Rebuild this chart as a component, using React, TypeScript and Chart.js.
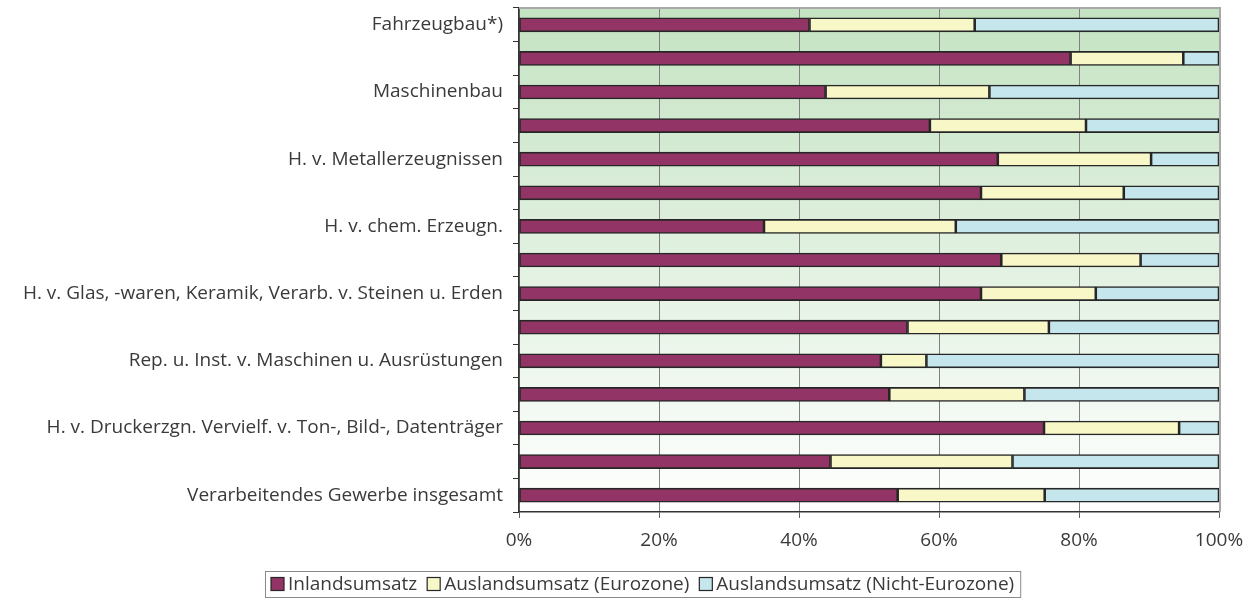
import React, { useEffect, useRef } from "react";
import { Chart, registerables } from "chart.js";

Chart.register(...registerables);

const categories = [
  "Fahrzeugbau*)",
  "",
  "Maschinenbau",
  "",
  "H. v. Metallerzeugnissen",
  "",
  "H. v. chem. Erzeugn.",
  "",
  "H. v. Glas, -waren, Keramik, Verarb. v. Steinen u. Erden",
  "",
  "Rep. u. Inst. v. Maschinen u. Ausrüstungen",
  "",
  "H. v. Druckerzgn. Vervielf. v. Ton-, Bild-, Datenträger",
  "",
  "Verarbeitendes Gewerbe insgesamt",
];

const inland = [41.5, 78.8, 43.8, 58.7, 68.4, 66.0, 35.0, 68.9, 66.0, 55.5, 51.7, 52.9, 75.0, 44.5, 54.1];
const eurozone = [23.6, 16.1, 23.4, 22.3, 21.9, 20.4, 27.4, 19.9, 16.4, 20.2, 6.5, 19.3, 19.3, 26.0, 21.0];
const nichtEurozone = [34.9, 5.1, 32.8, 19.0, 9.7, 13.6, 37.6, 11.2, 17.6, 24.3, 41.8, 27.8, 5.7, 29.5, 24.9];

const seriesNames = ["Inlandsumsatz", "Auslandsumsatz (Eurozone)", "Auslandsumsatz (Nicht-Eurozone)"];
const seriesColors = ["#933466", "#f8f7c8", "#c4e6ec"];

const xTicks = [0, 20, 40, 60, 80, 100];

const FONT = "'Open Sans', 'DejaVu Sans', sans-serif";
const FS = 19;
const TEXT = "#3a3a3a";

const bgPlugin = {
  id: "bgGradient",
  beforeDraw(chart: any) {
    const { ctx, chartArea: a } = chart;
    const g = ctx.createLinearGradient(0, a.top, 0, a.bottom);
    g.addColorStop(0, "#c4e3c2");
    g.addColorStop(1, "#ffffff");
    ctx.save();
    ctx.fillStyle = g;
    ctx.fillRect(a.left, a.top, a.right - a.left, a.bottom - a.top);
    ctx.restore();
  },
  afterDatasetsDraw(chart: any) {
    const { ctx, chartArea: a } = chart;
    ctx.save();
    ctx.strokeStyle = "#a8a8a8";
    ctx.lineWidth = 2;
    ctx.beginPath();
    ctx.moveTo(a.left, a.top);
    ctx.lineTo(a.right + 1, a.top);
    ctx.lineTo(a.right + 1, a.bottom);
    ctx.stroke();
    ctx.restore();
  },
};

const legendPlugin = {
  id: "boxLegend",
  afterDraw(chart: any) {
    const { ctx } = chart;
    ctx.save();
    ctx.font = `${FS}px ${FONT}`;
    ctx.textBaseline = "middle";
    const left = 265;
    const top = 571;
    const bottom = 597;
    const yC = 584;
    const sq = 13;
    let x = left + 6;
    chart.data.datasets.forEach((ds: any, i: number) => {
      ctx.fillStyle = ds.backgroundColor;
      ctx.fillRect(x, yC - sq / 2, sq, sq);
      ctx.strokeStyle = "#262626";
      ctx.lineWidth = 1.2;
      ctx.strokeRect(x, yC - sq / 2, sq, sq);
      x += sq + 4;
      ctx.fillStyle = TEXT;
      ctx.fillText(ds.label, x, yC + 1);
      x += ctx.measureText(ds.label).width;
      if (i < chart.data.datasets.length - 1) x += 10;
    });
    x += 6;
    ctx.strokeStyle = "#8a8a8a";
    ctx.lineWidth = 1;
    ctx.strokeRect(left + 0.5, top + 0.5, x - left, bottom - top);
    ctx.restore();
  },
};

export default function App() {
  const ref = useRef<HTMLCanvasElement | null>(null);

  useEffect(() => {
    document.body.style.margin = "0";
    if (!ref.current) return;
    const values = [inland, eurozone, nichtEurozone];
    const chart = new Chart(ref.current, {
      type: "bar",
      data: {
        labels: categories,
        datasets: values.map((v, i) => ({
          label: seriesNames[i],
          data: v,
          backgroundColor: seriesColors[i],
          borderColor: "#262626",
          borderWidth: 1.6,
          borderSkipped: false,
          barThickness: 14,
        })),
      },
      options: {
        indexAxis: "y",
        animation: false,
        responsive: false,
        layout: { padding: { top: 8, right: 36, bottom: 0, left: 0 } },
        plugins: {
          legend: { display: false },
          tooltip: { enabled: false },
        },
        scales: {
          x: {
            stacked: true,
            min: 0,
            max: 100,
            afterBuildTicks: (s: any) => {
              s.ticks = xTicks.map((v) => ({ value: v }));
            },
            afterFit: (s: any) => {
              s.height = 87;
              s.paddingLeft = 0;
            },
            ticks: {
              color: TEXT,
              font: { family: FONT, size: FS },
              padding: 11,
              callback: (v: any) => v + "%",
            },
            grid: { color: "#808080", lineWidth: 1, tickLength: 6, tickColor: "#606060" },
            border: { color: "#333333", width: 1.5 },
          },
          y: {
            stacked: true,
            afterFit: (s: any) => {
              s.width = 519;
              s.paddingTop = 0;
              s.paddingBottom = 0;
            },
            ticks: {
              color: TEXT,
              font: { family: FONT, size: FS },
              autoSkip: false,
              padding: 10,
            },
            grid: {
              offset: true,
              drawOnChartArea: false,
              drawTicks: true,
              tickLength: 6,
              color: "#333333",
            },
            border: { color: "#333333", width: 1.5 },
          },
        },
      },
      plugins: [bgPlugin, legendPlugin],
    });
    return () => chart.destroy();
  }, []);

  return (
    <div style={{ width: 1255, height: 599 }}>
      <canvas ref={ref} width={1255} height={599} style={{ display: "block" }} />
    </div>
  );
}
